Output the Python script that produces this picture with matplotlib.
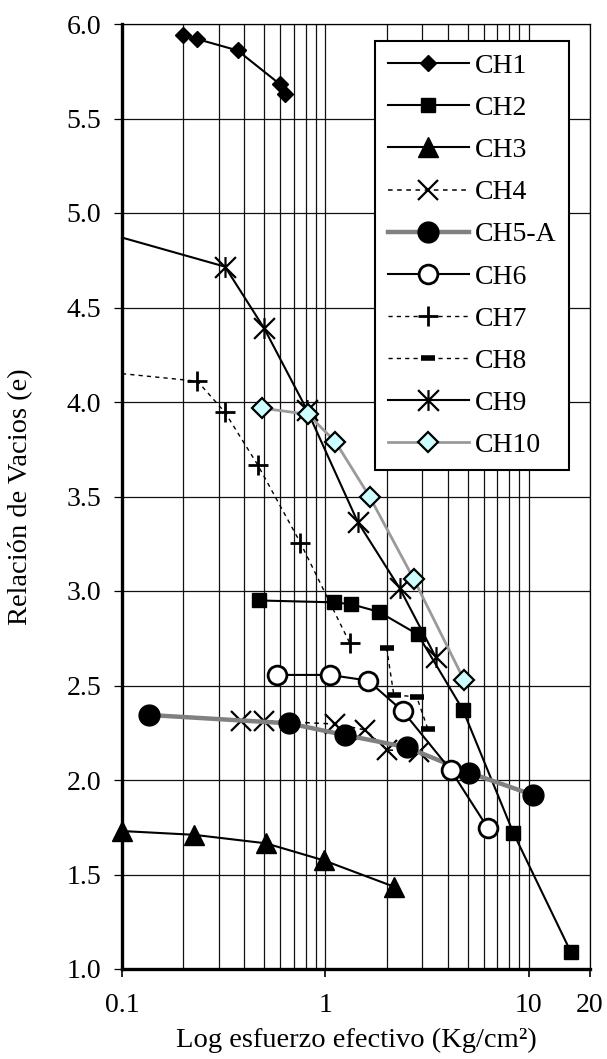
import numpy as np
import matplotlib
matplotlib.use('Agg')
import matplotlib.pyplot as plt
from matplotlib.path import Path
from matplotlib.ticker import FixedLocator, NullFormatter

plt.rcParams['font.family'] = ['Liberation Serif', 'DejaVu Serif']

# - Data (x = effective stress, y = void ratio) -
ch1_x = [0.20, 0.235, 0.37, 0.60, 0.63]
ch1_y = [5.94, 5.92, 5.86, 5.68, 5.63]
ch2_x = [0.47, 1.10, 1.34, 1.83, 2.85, 4.75, 8.4, 16.1]
ch2_y = [2.95, 2.94, 2.93, 2.89, 2.77, 2.37, 1.72, 1.09]
ch3_x = [0.10, 0.226, 0.51, 0.98, 2.18]
ch3_y = [1.73, 1.71, 1.665, 1.575, 1.435]
ch4_x = [0.385, 0.497, 1.12, 1.57, 2.01, 2.9]
ch4_y = [2.314, 2.314, 2.296, 2.265, 2.159, 2.15]
ch5_x = [0.136, 0.66, 1.245, 2.52, 5.08, 10.5]
ch5_y = [2.344, 2.30, 2.238, 2.173, 2.039, 1.921]
ch6_x = [0.58, 1.05, 1.62, 2.40, 4.13, 6.3]
ch6_y = [2.556, 2.556, 2.526, 2.365, 2.053, 1.745]
ch7_x = [0.10, 0.235, 0.321, 0.465, 0.753, 1.32]
ch7_y = [4.15, 4.11, 3.945, 3.667, 3.256, 2.723]
ch8_x = [2.0, 2.17, 2.81, 3.19]
ch8_y = [2.70, 2.45, 2.44, 2.27]
ch9_x = [0.10, 0.321, 0.50, 0.81, 1.44, 2.32, 3.48]
ch9_y = [4.87, 4.716, 4.39, 3.96, 3.367, 3.014, 2.652]
ch10_x = [0.49, 0.82, 1.12, 1.65, 2.72, 4.80]
ch10_y = [3.967, 3.935, 3.79, 3.499, 3.063, 2.53]

x_ticks = [0.1, 1, 10, 20]
x_tick_labels = ['0.1', '1', '10', '20']
y_ticks = [1.0, 1.5, 2.0, 2.5, 3.0, 3.5, 4.0, 4.5, 5.0, 5.5, 6.0]

# Excel-like "star" marker: X plus a vertical bar
star = Path([(-1, -1), (1, 1), (-1, 1), (1, -1), (0, -1), (0, 1)],
            [Path.MOVETO, Path.LINETO, Path.MOVETO, Path.LINETO, Path.MOVETO, Path.LINETO])

fig = plt.figure(figsize=(6.07, 10.59), dpi=100)
ax = fig.add_axes([122 / 607, 1 - 969 / 1059, 468 / 607, 945 / 1059])

dot = (0, (3, 3))

ax.plot(ch1_x, ch1_y, '-', color='k', lw=1.5, marker='D', ms=8.5, mfc='k', mec='k', label='CH1', clip_on=False)
ax.plot(ch2_x, ch2_y, '-', color='k', lw=1.5, marker='s', ms=10.5, mfc='k', mec='k', label='CH2', clip_on=False)
ax.plot(ch3_x, ch3_y, '-', color='k', lw=1.5, marker='^', ms=14, mfc='k', mec='k', label='CH3', clip_on=False)
ax.plot(ch4_x, ch4_y, linestyle=dot, color='k', lw=1.1, marker='x', ms=14, mew=1.6, mec='k', label='CH4', clip_on=False)
ax.plot(ch5_x, ch5_y, '-', color='#808080', lw=3.2, marker='o', ms=15, mfc='k', mec='k', label='CH5-A', clip_on=False)
ax.plot(ch6_x, ch6_y, '-', color='k', lw=1.5, marker='o', ms=13.5, mfc='white', mec='k', mew=2, label='CH6', clip_on=False)
ax.plot(ch7_x, ch7_y, linestyle=dot, color='k', lw=1.0, marker='+', ms=14, mew=2, mec='k',
        markevery=list(range(1, len(ch7_x))), label='CH7', clip_on=False)
ax.plot(ch8_x, ch8_y, linestyle=dot, color='k', lw=1.0, marker='_', ms=10, mew=4, mec='k', label='CH8', clip_on=False)
ax.plot(ch9_x, ch9_y, '-', color='k', lw=1.5, marker=star, ms=15, mew=1.6, mec='k',
        markevery=list(range(1, len(ch9_x))), label='CH9', clip_on=False)
ax.plot(ch10_x, ch10_y, '-', color='#9a9a9a', lw=2.0, marker='D', ms=10.5, mfc='#ccffff', mec='k', mew=1.6,
        label='CH10', clip_on=False)

ax.set_xscale('log')
ax.set_xlim(0.1, 20)
ax.set_ylim(1.0, 6.0)

ax.xaxis.set_major_locator(FixedLocator(x_ticks))
ax.set_xticklabels(x_tick_labels)
ax.xaxis.set_minor_locator(FixedLocator([0.2, 0.3, 0.4, 0.5, 0.6, 0.7, 0.8, 0.9, 2, 3, 4, 5, 6, 7, 8, 9]))
ax.xaxis.set_minor_formatter(NullFormatter())
ax.set_yticks(y_ticks)
ax.set_yticklabels(['%.1f' % v for v in y_ticks])

ax.grid(which='major', axis='both', color='#111111', lw=0.9)
ax.grid(which='minor', axis='x', color='#111111', lw=0.9)
ax.set_axisbelow(True)

ax.tick_params(axis='x', which='major', length=6, width=1.2, pad=11, labelsize=20)
ax.tick_params(axis='x', which='minor', length=0)
ax.tick_params(axis='y', length=6, width=0.9, pad=9, labelsize=20)

for side in ['left', 'bottom']:
    ax.spines[side].set_linewidth(2.4)
for side in ['top', 'right']:
    ax.spines[side].set_linewidth(0.9)

ax.set_xlabel('Log esfuerzo efectivo (Kg/cm²)', fontsize=20.5)
ax.set_ylabel('Relación de Vacios (e)', fontsize=20.5)
ax.xaxis.set_label_coords(0.5, -0.062)
ax.yaxis.set_label_coords(-0.19, 0.5)

leg = ax.legend(loc='upper left', bbox_to_anchor=(253 / 468, 928 / 945), borderaxespad=0,
                fontsize=20, frameon=True, fancybox=False, edgecolor='k', framealpha=1,
                handlelength=2.95, handletextpad=0.2, labelspacing=0.6, borderpad=0.45)
leg.get_frame().set_linewidth(1.5)

fig.savefig('out.png', dpi=100)
